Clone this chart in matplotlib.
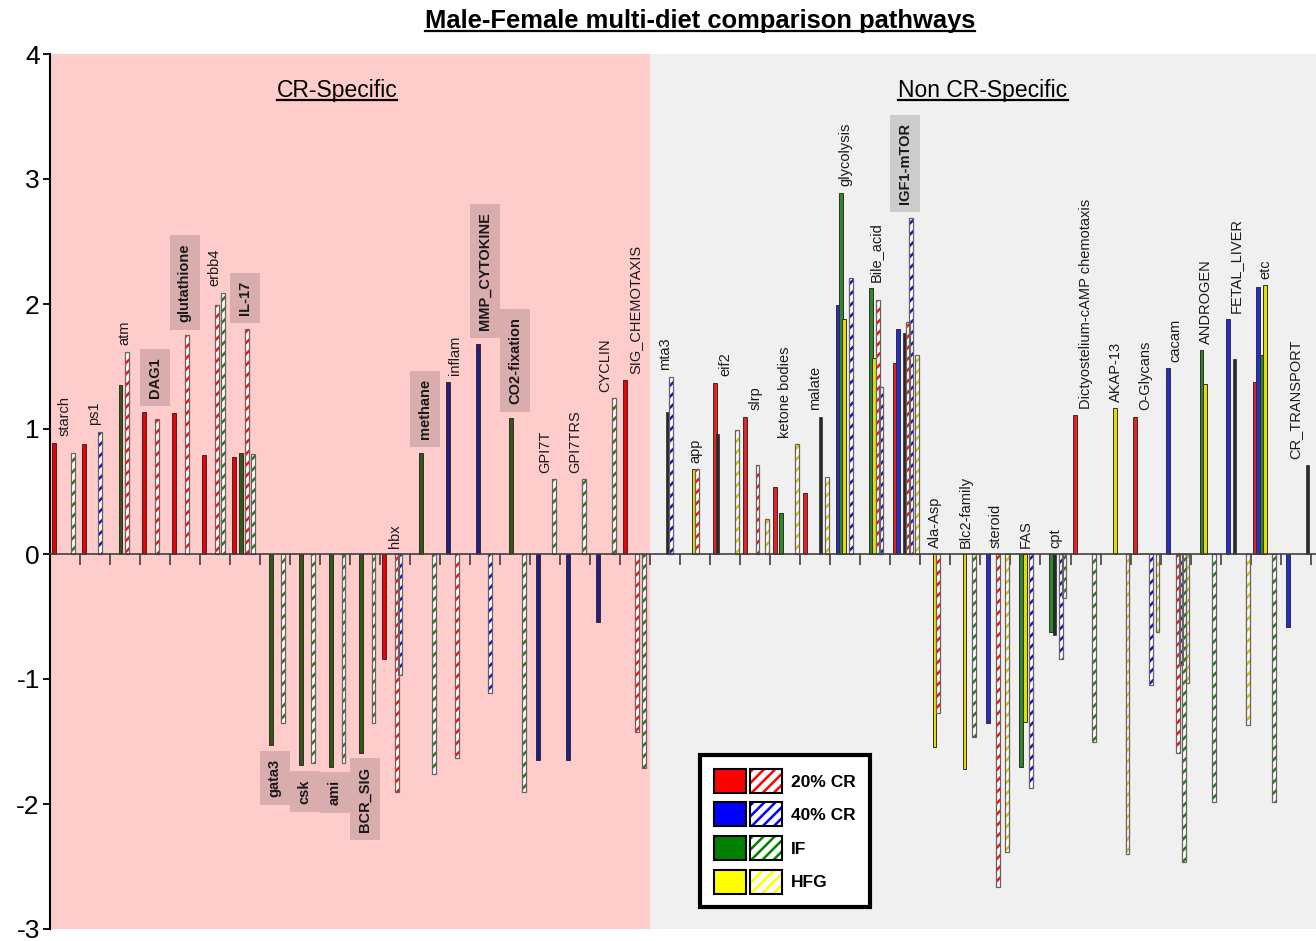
import numpy as np
import matplotlib.pyplot as plt
from matplotlib.patches import Patch
from matplotlib.lines import Line2D
from matplotlib.legend_handler import HandlerTuple

plt.rcParams['font.family'] = ['Liberation Sans', 'DejaVu Sans']
plt.rcParams['hatch.linewidth'] = 1.8
plt.rcParams['axes.unicode_minus'] = False

_ = None

# pathways (one group of 8 bar slots each); first 20 are CR-specific
pathways = ["starch", "ps1", "atm", "DAG1", "glutathione", "erbb4", "IL-17",
            "gata3", "csk", "ami", "BCR_SIG", "hbx", "methane", "inflam",
            "MMP_CYTOKINE", "CO2-fixation", "GPI7T", "GPI7TRS", "CYCLIN",
            "SIG_CHEMOTAXIS",
            "mta3", "app", "eif2", "slrp", "ketone bodies", "malate",
            "glycolysis", "Bile_acid", "IGF1-mTOR", "Ala-Asp", "Blc2-family",
            "steroid", "FAS", "cpt", "Dictyostelium-cAMP chemotaxis",
            "AKAP-13", "O-Glycans", "cacam", "ANDROGEN", "FETAL_LIVER", "etc",
            "CR_TRANSPORT"]
highlighted = ["DAG1", "glutathione", "IL-17", "methane", "MMP_CYTOKINE",
               "CO2-fixation", "gata3", "csk", "ami", "BCR_SIG", "IGF1-mTOR"]
n_cr = 20

# solid bars (male)
cr20_m = [.89, .88, _, 1.14, 1.13, .79, .78, _, _, _, _, -.84, _, _, _, _, _, _, _, 1.39,
          _, _, 1.37, 1.10, .54, .49, _, _, 1.53, _, _, _, _, _, 1.11, _, 1.10, _, _, _, 1.38, _]
cr40_m = [_, _, _, _, _, _, _, _, _, _, _, _, _, 1.38, 1.68, _, -1.65, -1.65, -.54, _,
          _, _, _, _, _, _, 1.99, _, 1.80, _, _, -1.35, _, _, _, _, _, 1.49, _, 1.88, 2.14, -.58]
if_m = [_, _, 1.35, _, _, _, .81, -1.53, -1.69, -1.70, -1.59, _, .81, _, _, 1.09, _, _, _, _,
        _, _, _, _, .33, _, 2.89, 2.13, _, _, _, _, -1.70, -.62, _, _, _, _, 1.63, _, 1.59, _]
hfg_m = [_, _, _, _, _, _, _, _, _, _, _, _, _, _, _, _, _, _, _, _,
         _, .68, _, _, _, _, 1.88, 1.57, _, -1.54, -1.72, _, -1.34, _, _, 1.17, _, _, 1.36, _, 2.15, _]

# hatched bars (female)
cr20_f = [_, _, 1.62, 1.08, 1.75, 1.99, 1.80, _, _, _, _, -1.90, _, -1.63, _, _, _, _, _, -1.42,
          _, .68, _, .71, _, _, _, 2.03, 1.86, -1.27, _, -2.66, _, _, _, _, _, -1.59, _, _, _, _]
cr40_f = [_, .98, _, _, _, _, _, _, _, _, _, -.97, _, _, -1.11, _, _, _, _, _,
          1.42, _, _, _, _, _, 2.21, 1.34, 2.69, _, _, _, -1.87, -.84, _, _, -1.05, -.89, _, _, _, _]
if_f = [.81, _, _, _, _, 2.09, .80, -1.35, -1.67, -1.67, -1.35, _, -1.76, _, _, -1.90, .60, .60, 1.25, -1.71,
        _, _, _, _, _, _, _, _, _, _, -1.46, _, _, -.35, -1.50, _, _, -2.46, -1.98, _, -1.98, _]
hfg_f = [_, _, _, _, _, _, _, _, _, _, _, _, _, _, _, _, _, _, _, _,
         _, _, .99, .28, .88, .62, _, _, 1.59, _, _, -2.38, _, _, _, -2.40, -.62, -1.03, _, -1.37, _, _]

# dark unlabelled bars
other_vals = [_] * 20 + [1.14, _, .96, _, _, 1.10, _, _, 1.77, _, _, _, _, -.65,
                         _, _, _, _, _, 1.56, _, .71]
other_slot = [0] * 20 + [4, 0, 1, 0, 0, 5, 0, 0, 3, 0, 0, 0, 0, 3,
                         0, 0, 0, 0, 0, 3, 0, 7]

diets = ["20% CR", "40% CR", "IF", "HFG"]

solid_cr = ['#ee0000', '#1e1e88', '#2f5a14', '#e6e600']
solid_non = ['#e82222', '#1f2fd0', '#2a8a2a', '#e0e000']
hatch_cols = ['#ff1010', '#1515c8', '#1f7f1f', '#d6c800']
legend_cols = ['#ff0000', '#0000ff', '#008000', '#ffff00']

groups = np.arange(len(pathways))
slot_step = 0.1066
bar_w = 0.13


def slot_x(i):
    return groups + 0.15 + slot_step * i


fig = plt.figure(figsize=(13.16, 9.41), dpi=100)
ax = fig.add_axes([49.5 / 1316, 12 / 941, 1 - 49.5 / 1316, 875 / 941])
xmax = (1316 - 49.5) / 30.03
ax.set_xlim(0, xmax)
ax.set_ylim(-3, 4)
ax.set_facecolor('none')
ax.axvspan(0, n_cr, color='#ffcccc', zorder=0, lw=0)
ax.axvspan(n_cr, xmax, color='#f0f0f0', zorder=0, lw=0)

male = [cr20_m, cr40_m, if_m, hfg_m]
female = [cr20_f, cr40_f, if_f, hfg_f]

for i, vals in enumerate(male):
    v = np.array(vals, dtype=float)
    m = ~np.isnan(v)
    cols = np.where(groups < n_cr, solid_cr[i], solid_non[i])
    ax.bar(slot_x(i)[m], v[m], width=bar_w, color=list(cols[m]),
           edgecolor='#3a2a2a', linewidth=0.7, zorder=3)

for i, vals in enumerate(female):
    v = np.array(vals, dtype=float)
    m = ~np.isnan(v)
    x = slot_x(i + 4)[m]
    ax.bar(x, v[m], width=bar_w, color='white', edgecolor=hatch_cols[i],
           hatch='///', linewidth=0, zorder=3)
    ax.bar(x, v[m], width=bar_w, fill=False, edgecolor='#6a6060',
           linewidth=0.9, zorder=4)

ov = np.array(other_vals, dtype=float)
m = ~np.isnan(ov)
ox = groups + 0.15 + slot_step * np.array(other_slot)
ax.bar(ox[m], ov[m], width=bar_w * 0.7, color='#2a2a2a', edgecolor='#2a2a2a',
       linewidth=0.5, zorder=3)

# pathway labels
all_vals = np.array(male + female + [other_vals], dtype=float)
for k, name in enumerate(pathways):
    col = all_vals[:, k]
    has_pos = np.any(col > 0)
    box = None
    weight = 'normal'
    if name in highlighted:
        box = dict(boxstyle='square,pad=0.55', facecolor=(0, 0, 0, 0.15),
                   edgecolor='none')
        weight = 'bold'
    if has_pos:
        y = np.nanmax(col) + (0.11 if box else 0.05)
        va = 'bottom'
    elif box:
        y = np.nanmin(col) - 0.11
        va = 'top'
    else:
        y = 0.05
        va = 'bottom'
    ax.text(k + 0.5, y, name, rotation=90, ha='center', va=va, fontsize=10.5,
            fontweight=weight, color='#1a1a1a', bbox=box, zorder=6)

# axes styling
for s in ['top', 'right']:
    ax.spines[s].set_visible(False)
ax.spines['bottom'].set_position(('data', 0))
ax.spines['bottom'].set_color('#404040')
ax.spines['bottom'].set_linewidth(1.2)
ax.spines['bottom'].set_zorder(5)
ax.spines['left'].set_linewidth(1.5)
ax.set_xticks(np.arange(1, len(pathways) + 1))
ax.tick_params(axis='x', length=8, width=1.2, color='#404040', labelbottom=False)
ax.set_yticks(np.arange(-3, 5))
ax.tick_params(axis='y', length=5, width=1.3, labelsize=19, pad=2)

cr_txt = ax.text(9.57, 3.71, "CR-Specific", ha='center', va='center', fontsize=16.5)
non_txt = ax.text((n_cr + xmax) / 2, 3.71, "Non CR-Specific", ha='center',
                  va='center', fontsize=16.5)
title = fig.text(700 / 1316, 1 - 21 / 941, "Male-Female multi-diet comparison pathways",
                 ha='center', va='center', fontsize=18.4, fontweight='bold')

# legend
handles = []
hmap = {tuple: HandlerTuple(ndivide=None, pad=0.25)}
for c in legend_cols:
    solid = Patch(facecolor=c, edgecolor='black', linewidth=1.5)
    inner = (Patch(facecolor='white', edgecolor=c, hatch='///', linewidth=0),
             Patch(fill=False, edgecolor='black', linewidth=1.5))
    hmap[inner] = HandlerTuple(ndivide=1, pad=0)
    handles.append((solid, inner))
leg = ax.legend(handles, diets, handler_map=hmap, loc='upper left',
                bbox_to_anchor=(700 / 1316, 1 - 755 / 941),
                bbox_transform=fig.transFigure, borderaxespad=0,
                handlelength=3.9, handleheight=1.75, labelspacing=0.55,
                handletextpad=0.55, borderpad=0.8, fancybox=False,
                framealpha=1, edgecolor='black',
                prop={'weight': 'bold', 'size': 12.5})
leg.get_frame().set_linewidth(3)
leg.set_zorder(10)

# underlines
fig.canvas.draw()
inv = fig.transFigure.inverted()
for t in [title, cr_txt, non_txt]:
    bb = t.get_window_extent()
    (x0, y0), (x1, _y) = inv.transform([(bb.x0, bb.y0 + 2), (bb.x1, bb.y0)])
    fig.add_artist(Line2D([x0, x1], [y0, y0], transform=fig.transFigure,
                          color='black', lw=1.6))

fig.savefig("out.png", dpi=100)
